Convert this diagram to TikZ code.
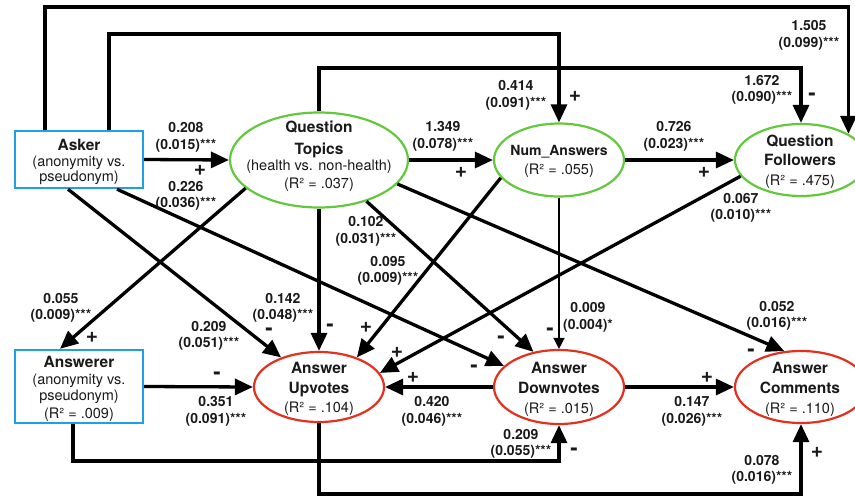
\documentclass[tikz,border=0pt]{standalone}
\usepackage{fontspec}
\setmainfont{TeX Gyre Heros}
\usetikzlibrary{arrows.meta,shapes.geometric}
\definecolor{boxblue}{RGB}{30,160,230}
\definecolor{ellgreen}{RGB}{100,200,60}
\definecolor{ellred}{RGB}{228,48,30}
\definecolor{txtc}{RGB}{25,25,25}
\newcommand\pathlab[4]{\node[lab] at (#1,#2) {#3}; \node[lab] at (#1,#2+16.5) {#4};}
\begin{document}
\begin{tikzpicture}[x=1pt,y=-1pt,
  box/.style={draw=boxblue,line width=2.4pt,rectangle,inner sep=0,minimum width=128pt},
  gell/.style={draw=ellgreen,line width=2.2pt,ellipse,inner sep=0},
  rell/.style={draw=ellred,line width=2.2pt,ellipse,inner sep=0},
  ttl/.style={anchor=base,inner sep=0,text=txtc,font=\bfseries\fontsize{15.5}{18}\selectfont},
  sub/.style={anchor=base,inner sep=0,text=txtc,font=\fontsize{14.5}{17}\selectfont},
  lab/.style={anchor=base,inner sep=0,text=txtc,font=\bfseries\fontsize{14}{16}\selectfont},
  plus/.style={inner sep=0,text=txtc,font=\bfseries\fontsize{21}{24}\selectfont},
  minus/.style={anchor=base,inner sep=0,text=txtc,font=\bfseries\fontsize{22}{24}\selectfont},
  arr/.style={line width=3.3pt,-{Triangle[length=18pt,width=16pt]}},
  thinarr/.style={line width=1.5pt,-{Triangle[length=11pt,width=11pt]}},
]
\useasboundingbox (0,0) rectangle (855,496);

% nodes
\node[box,minimum height=57pt] (asker) at (79,159.5) {};
\node[box,minimum height=73pt] (answerer) at (79,386.5) {};
\node[gell,minimum width=178pt,minimum height=95pt] (qt) at (319,160) {};
\node[gell,minimum width=130pt,minimum height=73pt] (na) at (559,160) {};
\node[gell,minimum width=132pt,minimum height=72pt] (qf) at (801,160) {};
\node[rell,minimum width=130pt,minimum height=70pt] (up) at (319,387) {};
\node[rell,minimum width=130pt,minimum height=74pt] (dn) at (559,387) {};
\node[rell,minimum width=132pt,minimum height=72pt] (cm) at (801,387) {};

% node texts
\node[ttl] at (79,150.7) {Asker};
\node[sub] at (79,166.7) {(anonymity vs.};
\node[sub] at (79,181.7) {pseudonym)};
\node[ttl] at (79,367.7) {Answerer};
\node[sub] at (79,384) {(anonymity vs.};
\node[sub] at (79,400.7) {pseudonym)};
\node[sub] at (79,418.3) {(R² = .009)};
\node[ttl] at (319,132.7) {Question};
\node[ttl] at (319,154) {Topics};
\node[sub] at (319,170) {(health vs. non-health)};
\node[sub] at (319,188.3) {(R² = .037)};
\node[ttl,font=\bfseries\fontsize{14}{16}\selectfont] at (559,155) {Num\_Answers};
\node[sub] at (559,174) {(R² = .055)};
\node[ttl] at (800,146) {Question};
\node[ttl] at (800,165.7) {Followers};
\node[sub] at (800,185) {(R² = .475)};
\node[ttl] at (319,373.3) {Answer};
\node[ttl] at (319,393.3) {Upvotes};
\node[sub] at (319,412.7) {(R² = .104)};
\node[ttl] at (559,373.3) {Answer};
\node[ttl] at (559,393.3) {Downvotes};
\node[sub] at (559,413.3) {(R² = .015)};
\node[ttl] at (800,373.3) {Answer};
\node[ttl] at (800,393.3) {Comments};
\node[sub] at (800,413.3) {(R² = .110)};

% connectors
\draw[arr] (asker.north -| 45,0) -- (45,7) -- (qf.north east |- 0,7) -- (qf.north east);
\draw[arr] (asker.north -| 109,0) -- (109,34) -- (na.north |- 0,34) -- (na.north);
\draw[arr] (qt.north) -- (qt.north |- 0,68) -- (qf.north |- 0,68) -- (qf.north);
\draw[arr] (asker.east) -- (qt.west);
\draw[arr] (qt.east) -- (na.west);
\draw[arr] (na.east) -- (qf.west);
\draw[arr] (asker.south -| 68,0) -- (up.142);
\draw[arr] (asker.south -| 117,0) -- (dn.159);
\draw[arr] (qt.201) -- (answerer.north -| 60,0);
\draw[arr] (qt.south) -- (up.north);
\draw[arr] (qt.319) -- (dn.126);
\draw[arr] (qt.343) -- (cm.115);
\draw[arr] (na.197) -- (up.38);
\draw[arr] (qf.195) -- (up.13);
\draw[thinarr] (na.south) -- (dn.north);
\draw[arr] (dn.west) -- (up.east);
\draw[arr] (answerer.east) -- (up.west);
\draw[arr] (dn.east) -- (cm.west);
\draw[arr] (answerer.south -| 73,0) -- (73,461) -- (dn.south |- 0,461) -- (dn.south);
\draw[arr] (up.south) -- (up.south |- 0,494) -- (cm.south |- 0,494) -- (cm.south);

% coefficient labels
\pathlab{186}{132.7}{0.208}{(0.015)***}
\pathlab{186}{191}{0.226}{(0.036)***}
\pathlab{443}{131.7}{1.349}{(0.078)***}
\pathlab{516}{90.7}{0.414}{(0.091)***}
\pathlab{674}{131.7}{0.726}{(0.023)***}
\pathlab{762}{85}{1.672}{(0.090)***}
\pathlab{809}{30.7}{1.505}{(0.099)***}
\pathlab{741}{203.3}{0.067}{(0.010)***}
\pathlab{366}{226.7}{0.102}{(0.031)***}
\pathlab{388}{266}{0.095}{(0.009)***}
\pathlab{283}{303.3}{0.142}{(0.048)***}
\pathlab{209}{331}{0.209}{(0.051)***}
\pathlab{61}{303.3}{0.055}{(0.009)***}
\pathlab{216}{406.7}{0.351}{(0.091)***}
\pathlab{432}{406.7}{0.420}{(0.046)***}
\pathlab{588}{312.7}{0.009}{(0.004)*}
\pathlab{777}{311}{0.052}{(0.016)***}
\pathlab{692}{406.7}{0.147}{(0.026)***}
\pathlab{521}{439.3}{0.209}{(0.055)***}
\pathlab{762}{465}{0.078}{(0.016)***}

% signs
\foreach \p in {(200,170),(461,172),(575,96),(704,172),(366,327),(397,352),(92,337),(413,377),(707,377),(817,452)}
  \node[plus] at \p {+};
\foreach \x/\y in {812/94,269/329,330/325,217/373,474/366,501/337,550/329,751/350,574/449}
  \node[minus] at (\x,\y+6) {-};
\end{tikzpicture}
\end{document}
